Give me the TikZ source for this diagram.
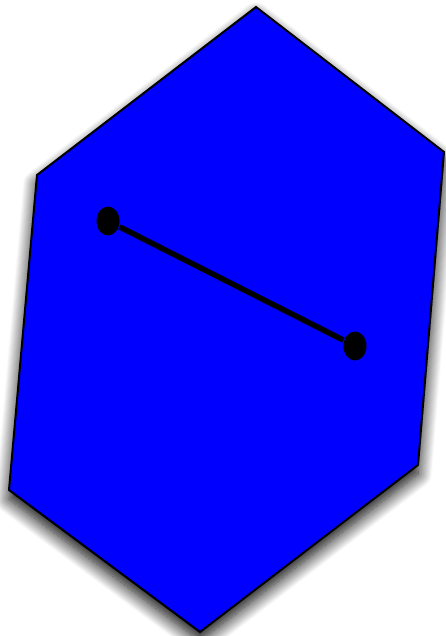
\documentclass[tikz,border=0pt]{standalone}
\usepackage{tikz}
\usetikzlibrary{shapes.geometric,shadows.blur}
\definecolor{hexblue}{RGB}{0,0,255}

\begin{document}
\begin{tikzpicture}[x=1pt,y=-1pt,line width=2pt,
  dot/.style={ellipse,fill=black,inner sep=0pt,minimum width=23pt,minimum height=29pt},
  segline/.style={line width=5.5pt}]
\useasboundingbox (0,0) rectangle (446,636);
% hexagon corners
\coordinate (top) at (256,7);
\coordinate (ur) at (444,152);
\coordinate (lr) at (418,465);
\coordinate (bot) at (200,632);
\coordinate (ll) at (9,490);
\coordinate (ul) at (37,175);
\draw[fill=hexblue,line join=miter,
  blur shadow={shadow xshift=0pt,shadow yshift=-9pt,shadow blur radius=14pt,shadow blur steps=16,shadow opacity=100}]
  (top)--(ur)--(lr)--(bot)--(ll)--(ul)--cycle;
% end points
\node[dot] (pa) at (108,221) {};
\node[dot] (pb) at (355,346) {};
\draw[segline] (pa)--(pb);
\end{tikzpicture}
\end{document}
